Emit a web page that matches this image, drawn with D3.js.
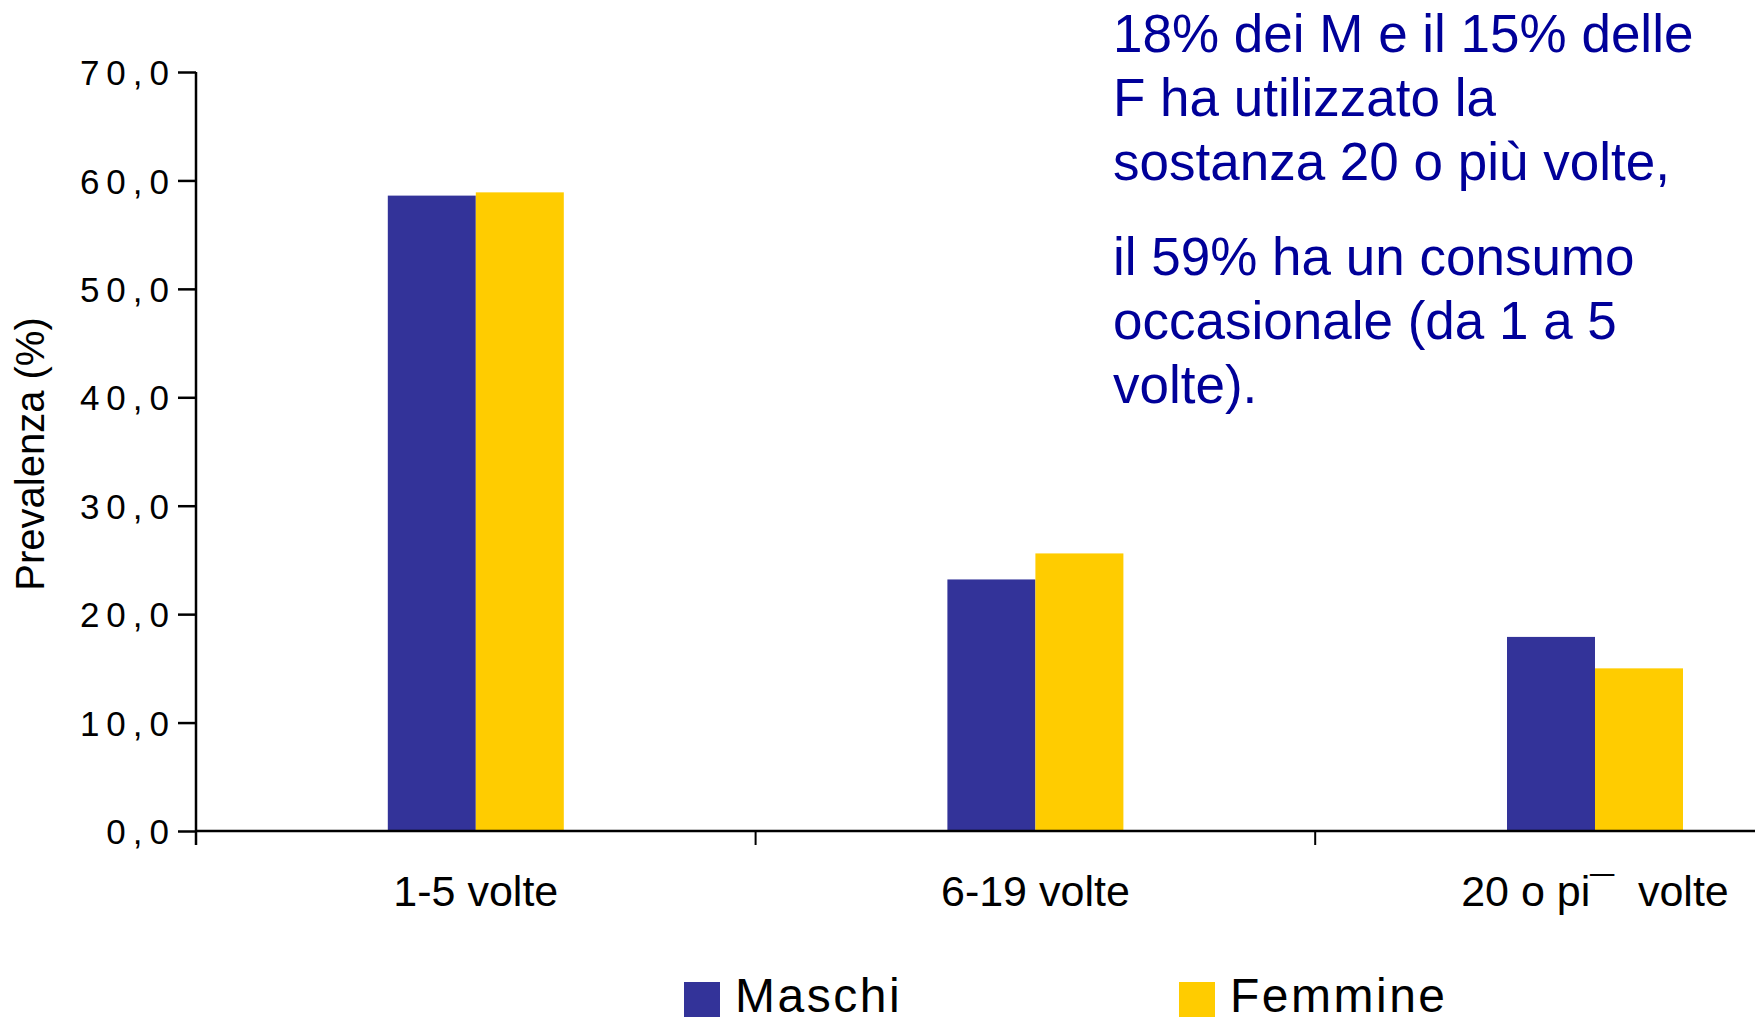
<!DOCTYPE html>
<html>
<head>
<meta charset="utf-8">
<script src="https://cdn.jsdelivr.net/npm/d3@7"></script>
<style>
    html, body { margin: 0; padding: 0; background: #fff; overflow: hidden; }
    svg { display: block; font-family: "Liberation Sans", Arial, sans-serif; }
</style>
</head>
<body>
<svg id="chart" width="1755" height="1017"></svg>
<script>
// Data
const categories = ["1-5 volte", "6-19 volte", "20 o pi\u00AF  volte"];
const series = ["Maschi", "Femmine"];
const maschi = [58.6, 23.2, 17.9];
const femmine = [58.9, 25.6, 15.0];
const yTicks = [0, 10, 20, 30, 40, 50, 60, 70];
const noteLines = [
    ["18% dei M e il 15% delle", "F ha utilizzato la", "sostanza 20 o più volte,"],
    ["il 59% ha un consumo", "occasionale (da 1 a 5", "volte)."]
];

const colors = { Maschi: "#333399", Femmine: "#FFCC00" };

const svg = d3.select("#chart");

// Scales (the third band runs past the right edge, as in the original)
const x = d3.scaleBand().domain(categories).range([196, 196 + 3 * 559.6]);
const y = d3.scaleLinear().domain([0, 70]).range([831, 72]);
const barW = 88;
const sub = d3.scaleBand().domain(series)
    .range([x.bandwidth() / 2 - barW, x.bandwidth() / 2 + barW]);

const rows = categories.map((c, i) => ({ cat: c, Maschi: maschi[i], Femmine: femmine[i] }));

// Bars
svg.append("g")
    .selectAll("g")
    .data(rows)
    .join("g")
    .attr("transform", d => `translate(${x(d.cat)},0)`)
    .selectAll("rect")
    .data(d => series.map(s => ({ key: s, value: d[s] })))
    .join("rect")
    .attr("x", d => sub(d.key))
    .attr("width", sub.bandwidth())
    .attr("y", d => y(d.value))
    .attr("height", d => y(0) - y(d.value))
    .attr("fill", d => colors[d.key]);

// Y axis
const yAxis = svg.append("g")
    .attr("transform", "translate(196,0)")
    .call(d3.axisLeft(y).tickValues(yTicks).tickSize(18).tickPadding(0)
        .tickFormat(d => d3.format(".1f")(d).replace(".", ",")));
yAxis.select(".domain").attr("d", `M0,${y(70)}V${y(0) + 14}`).attr("stroke-width", 2.5);
yAxis.selectAll(".tick line").attr("stroke-width", 2.5);
yAxis.selectAll(".tick text")
    .attr("x", -20)
    .attr("dy", "0.36em")
    .attr("font-size", 35)
    .attr("letter-spacing", 7)
    .attr("fill", "#000")
    .attr("font-family", "'Liberation Sans', Arial, sans-serif");

// X axis: ticks between categories
const xAxis = svg.append("g").attr("transform", `translate(0,${y(0)})`);
xAxis.append("line")
    .attr("x1", 196).attr("x2", 1755)
    .attr("stroke", "#000").attr("stroke-width", 2.5);
xAxis.selectAll(".sep")
    .data(categories.slice(1))
    .join("line")
    .attr("class", "sep")
    .attr("x1", d => x(d)).attr("x2", d => x(d))
    .attr("y1", 0).attr("y2", 14)
    .attr("stroke", "#000").attr("stroke-width", 2);
xAxis.selectAll(".lab")
    .data(categories)
    .join("text")
    .attr("class", "lab")
    .attr("x", d => x(d) + x.bandwidth() / 2)
    .attr("y", 75)
    .attr("text-anchor", "middle")
    .attr("font-size", 43)
    .style("white-space", "pre")
    .text(d => d);

// Y label
svg.append("text")
    .attr("transform", "translate(44,454) rotate(-90)")
    .attr("text-anchor", "middle")
    .attr("font-size", 40)
    .text("Prevalenza (%)");

// Legend
const legend = svg.append("g")
    .selectAll("g")
    .data(series)
    .join("g")
    .attr("transform", (d, i) => `translate(${684 + i * 495},982)`);
legend.append("rect")
    .attr("width", 36).attr("height", 36)
    .attr("fill", d => colors[d]);
legend.append("text")
    .attr("x", 51).attr("y", 30)
    .attr("font-size", 48)
    .attr("letter-spacing", 2.5)
    .text(d => d);

// Annotation
const note = svg.append("g").attr("fill", "#000099").attr("font-size", 53);
let ny = 52;
noteLines.forEach((para, p) => {
    if (p > 0) ny += 95 - 64;
    para.forEach(line => {
        note.append("text").attr("x", 1113).attr("y", ny).text(line);
        ny += 64;
    });
});
</script>
</body>
</html>
